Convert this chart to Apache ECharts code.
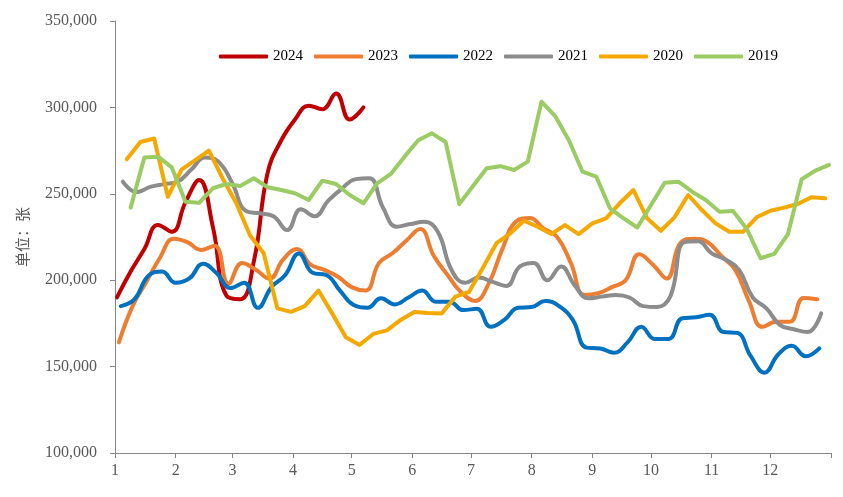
<!DOCTYPE html>
<html>
<head>
<meta charset="utf-8">
<script src="https://cdn.jsdelivr.net/npm/echarts@6/dist/echarts.min.js"></script>
<style>html,body{margin:0;padding:0;background:#fff}#c{width:843px;height:497px}</style>
</head>
<body>
<div id="c"></div>
<script>
// x: day of year (0 = Jan 1); ticks at month starts (leap-year calendar)
const monthStarts = [0,31,60,91,121,152,182,213,244,274,305,335,366];
const monthLabels = ['1','2','3','4','5','6','7','8','9','10','11','12'];
const yTicks = [100000,150000,200000,250000,300000,350000];
const years = ['2024','2023','2022','2021','2020','2019'];

const days2024 = [1,8,15,22,29,36,43,50,57,64,71,78,85,92,99,106,113,120,127];
const vals2024 = [190000,205000,218000,232000,228000,245000,258000,231000,191000,189000,211000,262000,281000,293000,301000,299000,308000,293000,300000];

const days2023 = [2,9,16,23,30,37,44,51,58,65,72,79,86,93,100,107,114,121,128,135,142,149,156,163,170,177,184,191,198,205,212,219,226,233,240,247,254,261,268,275,282,289,296,303,310,317,324,331,338,345,352,359];
const vals2023 = [164000,185000,199000,213000,224000,222000,217500,220000,198000,210000,206000,201000,212000,218000,209000,206000,202000,196000,194000,210000,215700,223000,229600,214000,203000,193000,188000,198000,218000,234000,236000,230000,225000,210000,191500,192500,196000,200000,215000,209000,201000,221500,224000,222000,214000,206000,188000,173000,176000,176000,189700,189000];

const days2022 = [3,10,17,24,31,38,45,52,59,66,73,80,87,94,101,108,115,122,129,136,143,150,157,164,171,178,185,192,199,206,213,220,227,234,241,248,255,262,269,276,283,290,297,304,311,318,325,332,339,346,353,360];
const vals2022 = [185000,189000,202500,205000,198500,201000,209500,204000,195500,198500,184000,196000,203000,215500,204300,203000,194000,185600,184000,189500,186000,190000,194000,187500,187600,182700,183500,173000,177000,184000,184500,188000,185000,177000,161000,160500,158000,164000,173000,166000,166000,178000,178500,180000,170000,169500,156000,146500,157000,162000,156000,160600];

const days2021 = [4,11,18,25,32,39,46,53,60,67,74,81,88,95,102,109,116,123,130,137,144,151,158,165,172,179,186,193,200,207,214,221,228,235,242,249,256,263,270,277,284,291,298,305,312,319,326,333,340,347,354,361];
const vals2021 = [257000,251000,254000,255600,257000,264000,271000,268500,256000,240000,238700,237000,229000,241000,237000,246000,253000,258500,259000,242000,231000,232500,233800,228000,206000,198500,201500,199000,196700,208000,210000,200000,208000,197000,189500,190500,191500,190000,185000,184500,191000,222000,222500,215500,212000,206000,190000,183700,174000,171600,170000,180800];

const days2020 = [6,13,20,27,34,41,48,55,62,69,76,83,90,97,104,111,118,125,132,139,146,153,160,167,174,181,188,195,202,209,216,223,230,237,244,251,258,265,272,279,286,293,300,307,314,321,328,335,342,349,356,363];
const vals2020 = [270000,280000,282000,248300,264000,269500,275000,259000,244500,226000,215600,183700,181700,185000,194000,180800,167000,162500,168900,171000,177000,181600,181000,180800,190500,193300,207000,221400,227000,234400,231000,226700,231900,226700,232900,235800,244500,252200,235800,228600,236400,249300,240600,232900,228000,228000,236400,240200,242000,244100,248000,247400];

const days2019 = [8,15,22,29,36,43,50,57,64,71,78,85,92,99,106,113,120,127,134,141,148,155,162,169,176,183,190,197,204,211,218,225,232,239,246,253,260,267,274,281,288,295,302,309,316,323,330,337,344,351,358,365];
const vals2019 = [242000,271000,271500,265300,245400,244800,253200,255700,254500,259000,253800,252200,250300,246400,257600,255700,249300,244500,256000,261500,271500,281000,285000,280000,244000,254500,264800,266000,263800,268600,303300,295000,281000,262800,260000,241600,235800,230500,243500,256400,257000,251200,246400,239600,240000,229500,212700,215200,226700,258400,263400,266700];

const seriesDays = [days2024, days2023, days2022, days2021, days2020, days2019];
const seriesVals = [vals2024, vals2023, vals2022, vals2021, vals2020, vals2019];
const colors = ['#C00000','#ED7D31','#0070C0','#8C8C8C','#F5A800','#9BCB63'];
const smoothFlags = [true,true,true,true,false,false];

const fmt = v => String(v).replace(/\B(?=(\d{3})+(?!\d))/g, ',');

const series = years.map((y, i) => ({
  name: y,
  type: 'line',
  data: seriesDays[i].map((d, k) => [d, seriesVals[i][k]]),
  smooth: smoothFlags[i] ? 0.45 : false,
  symbol: 'none',
  lineStyle: { width: 4, color: colors[i], cap: 'round', join: 'round' },
  itemStyle: { color: colors[i] },
  z: 2
}));

const chart = echarts.init(document.getElementById('c'), null, { renderer: 'canvas' });
chart.setOption({
  animation: false,
  backgroundColor: '#fff',
  color: colors,
  grid: { left: 115, right: 12, top: 21, bottom: 44 },
  legend: {
    data: years,
    left: 214, top: 44,
    itemWidth: 49, itemHeight: 4, itemGap: 11,
    icon: 'roundRect',
    textStyle: { fontFamily: 'Liberation Serif', fontSize: 15, color: '#000' }
  },
  xAxis: {
    type: 'value', min: 0, max: 366,
    axisLine: { lineStyle: { color: '#868686', width: 1 } },
    axisTick: { show: true, length: 5, customValues: monthStarts, lineStyle: { color: '#868686' } },
    axisLabel: {
      customValues: monthStarts.slice(0, 12),
      formatter: v => monthLabels[monthStarts.indexOf(v)] || '',
      fontFamily: 'Liberation Serif', fontSize: 16, color: '#595959', margin: 10
    },
    splitLine: { show: false }
  },
  yAxis: {
    type: 'value', min: yTicks[0], max: yTicks[yTicks.length - 1], interval: 50000,
    name: '单位：张', nameLocation: 'middle', nameRotate: 90, nameGap: 85,
    nameTextStyle: { fontFamily: 'Noto Sans CJK SC', fontSize: 15, color: '#595959' },
    axisLine: { show: true, lineStyle: { color: '#868686', width: 1 } },
    axisTick: { show: true, length: 5, lineStyle: { color: '#868686' } },
    axisLabel: { formatter: fmt, fontFamily: 'Liberation Serif', fontSize: 16, color: '#595959', margin: 18 },
    splitLine: { show: false }
  },
  series: series
});
</script>
</body>
</html>
